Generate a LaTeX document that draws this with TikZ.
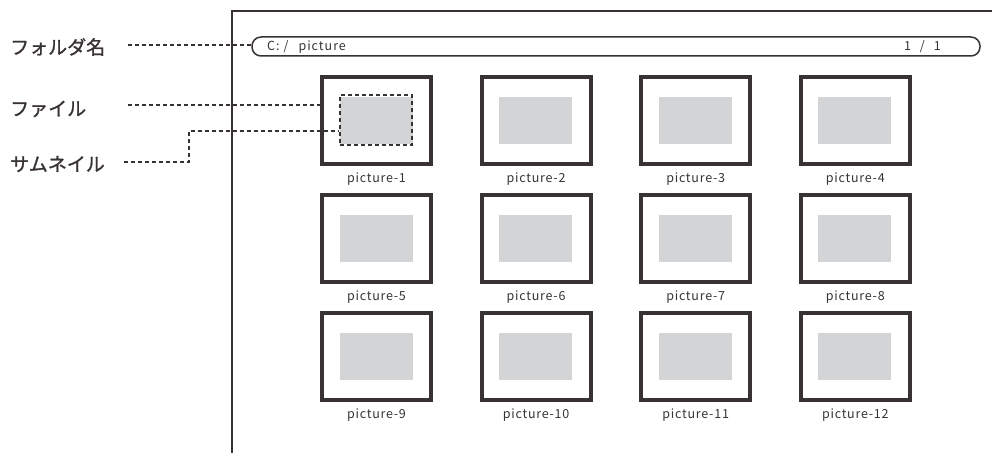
\documentclass[tikz,border=0pt]{standalone}
\usepackage{fontspec}
\newfontfamily\jp{Noto Sans CJK JP}[FakeBold=1.2]
\newfontfamily\lbl{Noto Sans CJK JP}[LetterSpace=6]
\newfontfamily\bartxt{Noto Sans CJK JP}[LetterSpace=8]
\definecolor{ink}{HTML}{383332}
\definecolor{thumbgray}{HTML}{D3D4D6}
\begin{document}
\begin{tikzpicture}[x=1pt,y=-1pt,
  frame/.style={draw=ink,line width=4pt,minimum width=109pt,minimum height=87pt,inner sep=0pt,fill=white},
  thumb/.style={fill=thumbgray,minimum width=73pt,minimum height=47pt,inner sep=0pt},
  caption/.style={font=\lbl\fontsize{12.5}{14}\selectfont,text=ink,inner sep=0pt},
  jlabel/.style={font=\jp\fontsize{19}{22}\selectfont,text=ink,anchor=west,inner sep=0pt},
  leader/.style={draw=ink,line width=2pt,dash pattern=on 4pt off 3pt},
  bartext/.style={font=\bartxt\fontsize{12.5}{14}\selectfont,text=ink,inner sep=0pt}]
\useasboundingbox (0,0) rectangle (992,452);
% outer window frame
\draw[ink,line width=2pt] (232,460) -- (232,11) -- (1000,11);
% folder bar
\node[draw=ink,line width=1.5pt,rounded corners=9pt,minimum width=728pt,minimum height=19pt,inner sep=0pt] (bar) at (616,46.5) {};
\node[bartext,anchor=west] (path) at (267,46.5) {C:\hspace{4pt}/\hspace{10pt}picture};
\node[bartext,anchor=east] (page) at (941,46.5) {1\hspace{9pt}/\hspace{9pt}1};
% thumbnails
\foreach \r in {0,1,2}{
  \foreach \c in {0,1,2,3}{
    \pgfmathtruncatemacro{\n}{\r*4+\c+1}
    \pgfmathsetmacro{\cx}{376.5+159.6*\c}
    \pgfmathsetmacro{\cy}{120.5+118*\r}
    \node[frame] (f\n) at (\cx,\cy) {};
    \node[thumb] (t\n) at (\cx-0.5,\cy) {};
    \node[caption] (c\n) at (\cx,\cy+59) {picture-\n};
  }
}
\node[draw=ink,line width=2pt,dash pattern=on 4pt off 3pt,minimum width=72pt,minimum height=50pt,inner sep=0pt] (sel) at (375.5,119.5) {};
% left labels
\node[jlabel] (lfolder) at (10,47) {フォルダ名};
\node[jlabel] (lfile) at (10,109) {ファイル};
\node[jlabel] (lthumb) at (10,164) {サムネイル};
\coordinate (cfolder) at (128,45.5);
\coordinate (cfile) at (128,105);
\coordinate (cthumb) at (124,162);
\coordinate (cbend) at (189,130.5);
\draw[leader] (cfolder) -- (bar.west |- cfolder);
\draw[leader] (cfile) -- (f1.west |- cfile);
\draw[leader] (cthumb) -| (cbend) -- (sel.west |- cbend);
\end{tikzpicture}
\end{document}
